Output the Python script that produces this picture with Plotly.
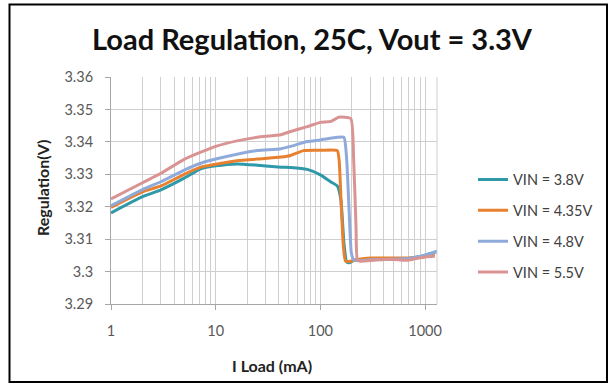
import plotly.graph_objects as go

# ---- data ----
load_38 = [1, 2, 3, 5, 7.2, 10, 16, 25, 42, 52, 75, 100, 125, 145, 157, 168, 178, 188, 210, 326, 470, 680, 980, 1300]
vout_38 = [3.3181, 3.3231, 3.3252, 3.3288, 3.3317, 3.3326, 3.3332, 3.3328, 3.3322, 3.3321, 3.3315, 3.3298,
           3.3277, 3.3264, 3.3221, 3.3087, 3.3030, 3.3027, 3.3035, 3.3037, 3.3038, 3.3040, 3.3050, 3.3062]

load_435 = [1, 2, 3, 5, 7.2, 10, 16, 25, 42, 52, 69, 100, 145, 151, 159, 166, 174, 195, 226, 303, 470, 680, 980, 1240]
vout_435 = [3.3198, 3.3246, 3.3264, 3.3300, 3.3322, 3.3331, 3.3342, 3.3347, 3.3353, 3.3358, 3.3373, 3.3374,
            3.3373, 3.3344, 3.3190, 3.3076, 3.3032, 3.3032, 3.3037, 3.3042, 3.3042, 3.3042, 3.3045, 3.3052]

load_48 = [1, 2, 3, 5, 7.2, 10, 16, 25, 42, 52, 75, 100, 145, 168, 178.5, 188, 198, 210, 326, 470, 680, 980, 1300]
vout_48 = [3.3203, 3.3253, 3.3277, 3.3313, 3.3334, 3.3347, 3.3362, 3.3373, 3.3379, 3.3386, 3.3401, 3.3406,
           3.3414, 3.3414, 3.3344, 3.3190, 3.3056, 3.3035, 3.3037, 3.3038, 3.3040, 3.3050, 3.3061]

load_55 = [1, 2, 3, 5, 7.2, 10, 16, 25, 42, 52, 75, 100, 126, 150, 195, 208, 219, 226, 243, 326, 470, 680, 980, 1240]
vout_55 = [3.3224, 3.3274, 3.3303, 3.3346, 3.3368, 3.3386, 3.3403, 3.3414, 3.3422, 3.3432, 3.3447, 3.3460,
           3.3463, 3.3476, 3.3472, 3.3344, 3.3138, 3.3035, 3.3032, 3.3035, 3.3038, 3.3035, 3.3045, 3.3047]

series_names = ["VIN = 3.8V", "VIN = 4.35V", "VIN = 4.8V", "VIN = 5.5V"]
series_colors = ["#2f98a9", "#e8812f", "#8eaadb", "#d99392"]

x_ticks = [1, 10, 100, 1000]
x_tick_labels = ["1", "10", "100", "1000"]
x_minor = [m * d for d in (1, 10, 100) for m in range(2, 10)]
y_ticks = [3.29, 3.30, 3.31, 3.32, 3.33, 3.34, 3.35, 3.36]
y_tick_labels = ["3.29", "3.3", "3.31", "3.32", "3.33", "3.34", "3.35", "3.36"]

title_text = "Load Regulation, 25C, Vout = 3.3V"
x_title = "I Load (mA)"
y_title = "Regulation(V)"

FONT = "Lato"
GRID = "#cfcfcf"

fig = go.Figure()
for i, (xs, ys) in enumerate([(load_38, vout_38), (load_435, vout_435), (load_48, vout_48), (load_55, vout_55)]):
    fig.add_trace(go.Scatter(
        x=xs, y=ys, mode="lines", name=series_names[i],
        line=dict(color=series_colors[i], width=3, shape="spline", smoothing=0.5),
        legendgroup=str(i),
    ))

L, R, T, B = 111, 175, 77, 81
W, H = 612, 385
pw, ph = W - L - R, H - T - B

def px_x(p):
    return (p - L) / pw

def px_y(p):
    return (H - B - p) / ph

fig.update_layout(
    width=W, height=H,
    margin=dict(l=L, r=R, t=T, b=B),
    paper_bgcolor="white", plot_bgcolor="white",
    font=dict(family=FONT, color="#595959", size=14),
    title=dict(text=title_text, x=312 / W, xref="container", xanchor="center",
               y=1 - 40 / H, yref="container", yanchor="middle",
               font=dict(family=FONT, size=29, color="#111111", weight="bold")),
    showlegend=True,
    legend=dict(x=px_x(473), xanchor="left", y=px_y(226), yanchor="middle",
                font=dict(family=FONT, size=14.5, color="#404040"),
                tracegroupgap=9, bgcolor="rgba(0,0,0,0)"),
    xaxis=dict(type="log", range=[0, 3.114],
               tickvals=x_ticks, ticktext=x_tick_labels,
               ticks="outside", ticklen=5, tickcolor="#a6a6a6",
               showgrid=True, gridcolor=GRID, gridwidth=1,
               minor=dict(tickvals=x_minor, showgrid=True, gridcolor=GRID, gridwidth=1, ticks=""),
               showline=True, linecolor="#a6a6a6", linewidth=1,
               zeroline=False, ticklabelstandoff=9,
               tickfont=dict(size=14.5, color="#595959")),
    yaxis=dict(range=[3.29, 3.36], tickvals=y_ticks, ticktext=y_tick_labels,
               ticks="outside", ticklen=5, tickcolor="#a6a6a6",
               showgrid=True, gridcolor=GRID, gridwidth=1,
               showline=True, linecolor="#a6a6a6", linewidth=1,
               zeroline=False, ticklabelstandoff=9,
               tickfont=dict(size=14.5, color="#595959")),
    shapes=[
        dict(type="line", xref="paper", yref="paper", x0=1, x1=1, y0=0, y1=1,
             line=dict(color=GRID, width=1)),
        dict(type="rect", xref="paper", yref="paper",
             x0=px_x(9.5), x1=px_x(607), y0=px_y(382), y1=px_y(4.5),
             line=dict(color="#000000", width=2), fillcolor="rgba(0,0,0,0)", layer="above"),
    ],
    annotations=[
        dict(text=y_title, xref="paper", yref="paper", x=px_x(42), y=px_y(188),
             textangle=-90, showarrow=False, xanchor="center", yanchor="middle",
             font=dict(family=FONT, size=16, color="#222222", weight="bold")),
        dict(text=x_title, xref="paper", yref="paper", x=px_x(272), y=px_y(365),
             showarrow=False, xanchor="center", yanchor="middle",
             font=dict(family=FONT, size=16, color="#222222", weight="bold")),
    ],
)

fig.write_html("out.html", config={"displayModeBar": False},
               post_script="document.body.style.margin='0';document.body.style.overflow='hidden';")
